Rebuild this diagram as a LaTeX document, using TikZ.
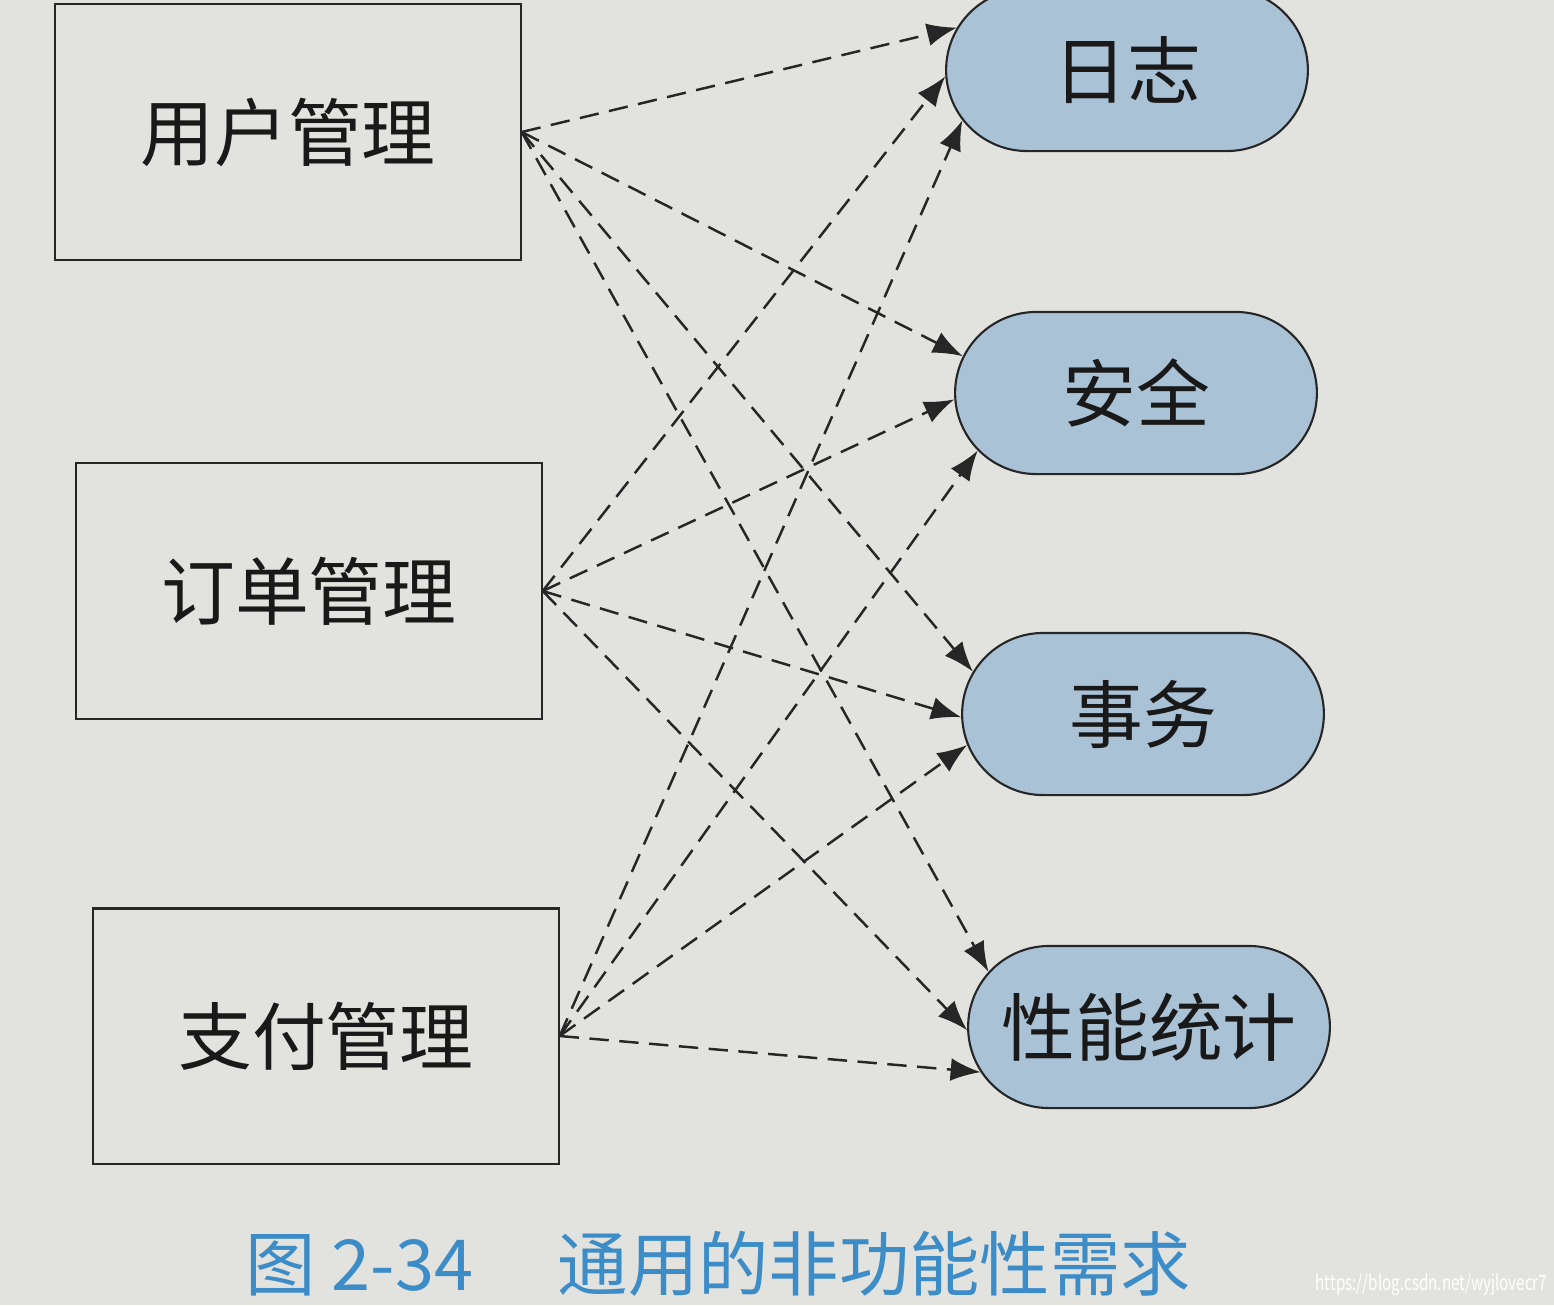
\documentclass[tikz,border=0pt]{standalone}
\usepackage{fontspec}
\setmainfont{Noto Sans CJK SC}
\newfontfamily\cjk{Noto Sans CJK SC}
\usetikzlibrary{shapes.misc,arrows.meta}
\definecolor{paper}{RGB}{226,226,222}
\definecolor{pill}{RGB}{170,194,214}
\definecolor{capblue}{RGB}{60,140,200}
\begin{document}
\begin{tikzpicture}[x=0.01cm,y=-0.01cm,
  modbox/.style={draw=black!85,line width=0.6pt,rectangle,minimum width=4.65cm,minimum height=2.55cm,font=\cjk\fontsize{21}{25}\selectfont,text=black!90},
  aspect/.style={draw=black!85,line width=0.6pt,rounded rectangle,fill=pill,minimum width=3.85cm,minimum height=1.62cm,font=\cjk\fontsize{21}{25}\selectfont,text=black!90},
  dep/.style={dashed,dash pattern=on 5.5pt off 3pt,line width=0.7pt,black!85,-{Latex[length=8.5pt,width=6.5pt]}}]
\fill[paper] (0,0) rectangle (1554,1305);
\useasboundingbox (0,0) rectangle (1554,1305);
% left modules
\node[modbox] (u) at (288,132) {用户管理};
\node[modbox] (o) at (309,591) {订单管理};
\node[modbox] (p) at (326,1036) {支付管理};
% right aspects
\node[aspect] (l) at (1127,70) {日志};
\node[aspect] (s) at (1136,393) {安全};
\node[aspect] (t) at (1143,714) {事务};
\node[aspect] (f) at (1149,1027) {性能统计};
% connectors
\draw[dep] (u.east) -- (l.166);
\draw[dep] (u.east) -- (s.168);
\draw[dep] (u.east) -- (t.166);
\draw[dep] (u.east) -- (f.161);
\draw[dep] (o.east) -- (l.182);
\draw[dep] (o.east) -- (s.182);
\draw[dep] (o.east) -- (t.181);
\draw[dep] (o.east) -- (f.181);
\draw[dep] (p.east) -- (l.197);
\draw[dep] (p.east) -- (s.200);
\draw[dep] (p.east) -- (t.190);
\draw[dep] (p.east) -- (f.195);
% caption
\node[anchor=base west,text=capblue,font=\cjk\fontsize{20}{24}\selectfont,inner sep=0pt] (cap) at (245,1290) {图 2-34\hspace{1.2em}通用的非功能性需求};
\node[anchor=base east,text=white,font=\fontsize{6}{7}\selectfont,inner sep=0pt] (wm) at (1548,1290) {\scalebox{0.72}[1]{https://blog.csdn.net/wyjlovecr7}};
\end{tikzpicture}
\end{document}
